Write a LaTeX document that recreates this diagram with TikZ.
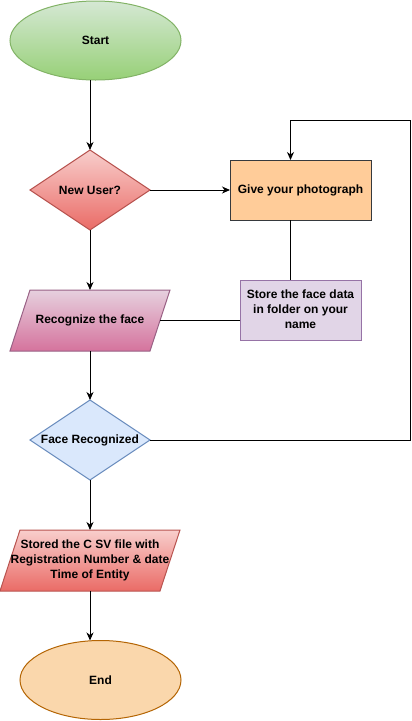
\documentclass[tikz,border=0pt]{standalone}
\usepackage{fontspec}
\setmainfont{Liberation Sans}
\usetikzlibrary{shapes.geometric,arrows.meta,calc,backgrounds}
\definecolor{startT}{HTML}{D5E8D4}
\definecolor{startB}{HTML}{97D077}
\definecolor{startS}{HTML}{82B366}
\definecolor{redT}{HTML}{F8CECC}
\definecolor{redB}{HTML}{EA6B66}
\definecolor{redS}{HTML}{B85450}
\definecolor{photoF}{HTML}{FFCC99}
\definecolor{photoS}{HTML}{36393D}
\definecolor{storeF}{HTML}{E1D5E7}
\definecolor{storeS}{HTML}{9673A6}
\definecolor{recT}{HTML}{E6D0DE}
\definecolor{recB}{HTML}{D5739D}
\definecolor{recS}{HTML}{996185}
\definecolor{frF}{HTML}{DAE8FC}
\definecolor{frS}{HTML}{6C8EBF}
\definecolor{endF}{HTML}{FAD7AC}
\definecolor{endS}{HTML}{B46504}
\begin{document}
\begin{tikzpicture}[x=1pt,y=-1pt,
  base/.style={font=\fontsize{12}{15}\selectfont\bfseries, align=center,
    line width=1pt, inner sep=0pt, outer sep=0pt, text=black},
  ln/.style={line width=1pt, draw=black},
  arr/.style={ln, -{Stealth[length=8pt,width=7pt,inset=2.5pt]}},
  shp/.style={line width=1pt}
]
\useasboundingbox (0,0) rectangle (412,721);

% nodes
\node[base, ellipse, draw=startS, top color=startT, bottom color=startB,
  minimum width=171, minimum height=79] (start) at (95.5,40.5) {Start};
\node[base, minimum width=120, minimum height=80] (nu) at (90,190) {New User?};
\node[base, rectangle, draw=photoS, fill=photoF, minimum width=141,
  minimum height=60] (photo) at (300.5,190) {Give your photograph};
\node[base, rectangle, draw=storeS, fill=storeF, minimum width=121,
  minimum height=60] (store) at (300.5,310) {\raisebox{-2pt}{\begin{tabular}{@{}c@{}}Store the face data\\in folder on your\\name\end{tabular}}};
\node[base, minimum width=160, minimum height=61] (rec) at (90,320.5) {Recognize the face};
\node[base, minimum width=120, minimum height=80] (fr) at (90,440) {Face Recognized};
\node[base, minimum width=180, minimum height=61] (st) at (90,560.5)
  {Stored the C SV file with\\Registration Number \& date\\Time of Entity};
\node[base, ellipse, draw=endS, fill=endF, minimum width=161,
  minimum height=79] (end) at (100.5,680) {End};

% shapes drawn behind text
\begin{scope}[on background layer]
  \draw[shp, draw=redS, top color=redT, bottom color=redB]
    (nu.north) -- (nu.east) -- (nu.south) -- (nu.west) -- cycle;
  \draw[shp, draw=recS, top color=recT, bottom color=recB]
    (rec.south west) -- ++(140,0) -- (rec.north east) -- ++(-140,0) -- cycle;
  \draw[shp, draw=frS, fill=frF]
    (fr.north) -- (fr.east) -- (fr.south) -- (fr.west) -- cycle;
  \draw[shp, draw=redS, top color=redT, bottom color=redB]
    (st.south west) -- ++(160,0) -- (st.north east) -- ++(-160,0) -- cycle;
\end{scope}

% connectors
\coordinate (loopR) at (410,120);
\draw[arr] (nu.north |- start.south) -- (nu.north);
\draw[arr] (nu.east) -- (photo.west);
\draw[ln] ([xshift=-10pt]photo.south) -- ([xshift=-10pt]photo.south |- store.north);
\draw[ln] (store.west |- rec.center) -- ([xshift=-10pt]rec.east);
\draw[arr] (nu.south) -- (rec.north);
\draw[arr] (rec.south) -- (fr.north);
\draw[arr] (fr.east) -| (loopR) -| ([xshift=-10pt]photo.north);
\draw[arr] (fr.south) -- (st.north);
\draw[arr] (st.south) -- (st.south |- end.north);
\end{tikzpicture}
\end{document}
